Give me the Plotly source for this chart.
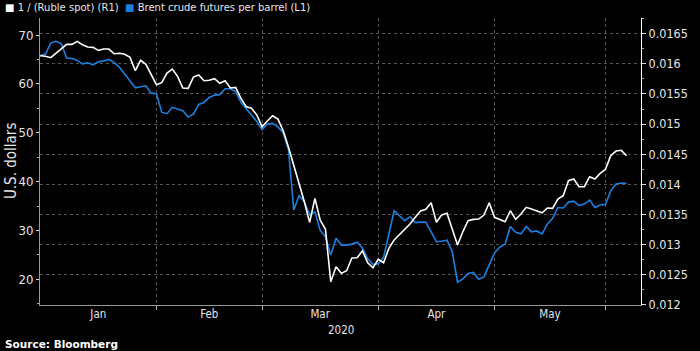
import numpy as np
import pandas as pd
import plotly.graph_objects as go

# Weekday trading dates (Jan 1 - Jun 4, 2020)
dates = [
    "2020-01-01", "2020-01-02", "2020-01-03", "2020-01-06", "2020-01-07", "2020-01-08", "2020-01-09", "2020-01-10",
    "2020-01-13", "2020-01-14", "2020-01-15", "2020-01-16", "2020-01-17", "2020-01-20", "2020-01-21", "2020-01-22",
    "2020-01-23", "2020-01-24", "2020-01-27", "2020-01-28", "2020-01-29", "2020-01-30", "2020-01-31",
    "2020-02-03", "2020-02-04", "2020-02-05", "2020-02-06", "2020-02-07", "2020-02-10", "2020-02-11", "2020-02-12",
    "2020-02-13", "2020-02-14", "2020-02-17", "2020-02-18", "2020-02-19", "2020-02-20", "2020-02-21", "2020-02-24",
    "2020-02-25", "2020-02-26", "2020-02-27", "2020-02-28",
    "2020-03-02", "2020-03-03", "2020-03-04", "2020-03-05", "2020-03-06", "2020-03-09", "2020-03-10", "2020-03-11",
    "2020-03-12", "2020-03-13", "2020-03-16", "2020-03-17", "2020-03-18", "2020-03-19", "2020-03-20", "2020-03-23",
    "2020-03-24", "2020-03-25", "2020-03-26", "2020-03-27", "2020-03-30", "2020-03-31",
    "2020-04-01", "2020-04-02", "2020-04-03", "2020-04-06", "2020-04-07", "2020-04-08", "2020-04-09", "2020-04-10",
    "2020-04-13", "2020-04-14", "2020-04-15", "2020-04-16", "2020-04-17", "2020-04-20", "2020-04-21", "2020-04-22",
    "2020-04-23", "2020-04-24", "2020-04-27", "2020-04-28", "2020-04-29", "2020-04-30",
    "2020-05-01", "2020-05-04", "2020-05-05", "2020-05-06", "2020-05-07", "2020-05-08", "2020-05-11", "2020-05-12",
    "2020-05-13", "2020-05-14", "2020-05-15", "2020-05-18", "2020-05-19", "2020-05-20", "2020-05-21", "2020-05-22",
    "2020-05-25", "2020-05-26", "2020-05-27", "2020-05-28", "2020-05-29",
    "2020-06-01", "2020-06-02", "2020-06-03", "2020-06-04",
]

# Brent crude futures per barrel, USD (left axis)
brent = [
    65.8, 66.1, 68.4, 68.7, 68.2, 65.3, 65.2, 64.8, 64.1, 64.3,
    63.9, 64.5, 64.7, 65.0, 64.4, 63.4, 62.0, 60.7, 59.2, 59.4,
    59.6, 58.1, 58.0, 54.2, 53.9, 55.2, 54.9, 54.5, 53.2, 53.8,
    55.8, 56.2, 57.2, 57.7, 57.8, 59.0, 59.0, 58.4, 56.2, 55.0,
    53.6, 52.3, 50.6, 51.8, 51.9, 51.2, 50.0, 46.5, 34.2, 37.1,
    35.9, 33.2, 33.8, 30.0, 28.7, 25.0, 28.4, 27.0, 27.0, 27.2,
    27.6, 26.4, 24.2, 23.0, 23.2, 24.5, 29.4, 34.0, 33.0, 32.0,
    32.8, 31.6, 31.7, 31.7, 29.7, 27.7, 27.8, 28.0, 25.7, 19.4,
    20.1, 21.2, 21.4, 20.0, 20.5, 23.1, 25.4, 26.6, 27.2, 30.8,
    29.6, 29.3, 30.8, 29.7, 29.9, 29.3, 31.3, 32.5, 34.7, 34.6,
    35.8, 36.0, 35.1, 35.4, 36.2, 34.7, 35.2, 35.3, 38.1, 39.5,
    39.7, 39.6,
]

# 1 / (Ruble spot) (right axis)
ruble_inv = [
    0.016135, 0.016125, 0.016102, 0.016180, 0.016251, 0.016324, 0.016324, 0.016374, 0.016317, 0.016279,
    0.016274, 0.016224, 0.016246, 0.016246, 0.016168, 0.016175, 0.016158, 0.016108, 0.015886, 0.016059,
    0.015992, 0.015820, 0.015654, 0.015687, 0.015848, 0.015914, 0.015793, 0.015599, 0.015594, 0.015781,
    0.015815, 0.015720, 0.015727, 0.015753, 0.015677, 0.015720, 0.015599, 0.015610, 0.015428, 0.015288,
    0.015262, 0.015151, 0.014956, 0.015051, 0.015139, 0.015084, 0.014890, 0.014615, 0.014321, 0.014017,
    0.013712, 0.013370, 0.013768, 0.013408, 0.013254, 0.012384, 0.012633, 0.012523, 0.012566, 0.012777,
    0.012782, 0.012898, 0.012699, 0.012616, 0.012756, 0.012699, 0.012938, 0.013076, 0.013159, 0.013242,
    0.013341, 0.013453, 0.013557, 0.013585, 0.013695, 0.013370, 0.013491, 0.013519, 0.013270, 0.012993,
    0.013214, 0.013396, 0.013419, 0.013424, 0.013491, 0.013695, 0.013453, 0.013420, 0.013380, 0.013562,
    0.013420, 0.013507, 0.013619, 0.013590, 0.013562, 0.013529, 0.013607, 0.013602, 0.013756, 0.013811,
    0.014060, 0.014088, 0.013961, 0.013961, 0.014127, 0.014088, 0.014183, 0.014249, 0.014475, 0.014553,
    0.014565, 0.014475,
]

month_labels = ["Jan", "Feb", "Mar", "Apr", "May"]
month_starts = ["2020-01-01", "2020-02-01", "2020-03-01", "2020-04-01", "2020-05-01", "2020-06-01"]

FONT = "DejaVu Sans Condensed, DejaVu Sans, sans-serif"
WHITE = "#ffffff"
BLUE = "#1c80e0"
GRID = "#555555"
TXT = "#e6e6e6"

X_RANGE = ["2020-01-01 23:00", "2020-06-09 17:30"]
BREAKS = [dict(bounds=["sat", "mon"])]

# points plotted at end of each trading day (Bloomberg convention)
x = pd.to_datetime(dates) + pd.Timedelta(hours=23, minutes=59)

# month-label positions: centre of each month's visible weekday span
range_start = pd.Timestamp(X_RANGE[0]).ceil("D")
label_pos = []
for a, b in zip(month_starts[:-1], month_starts[1:]):
    s = max(pd.Timestamp(a), range_start)
    s = pd.Timestamp(np.busday_offset(s.date(), 0, roll="forward"))
    n = int(np.busday_count(s.date(), pd.Timestamp(b).date()))
    mid = pd.Timestamp(np.busday_offset(s.date(), n // 2, roll="forward"))
    if n % 2:
        mid += pd.Timedelta(hours=12)
    label_pos.append(mid)

fig = go.Figure()
fig.add_trace(go.Scatter(x=x, y=brent, mode="lines", yaxis="y",
                         line=dict(color=BLUE, width=1.6), name="Brent crude futures per barrel (L1)"))
fig.add_trace(go.Scatter(x=x, y=ruble_inv, mode="lines", yaxis="y2",
                         line=dict(color=WHITE, width=1.6), name="1 / (Ruble spot) (R1)"))
# carrier for the month-label axis
fig.add_trace(go.Scatter(x=[x[0]], y=[brent[0]], xaxis="x2", yaxis="y", mode="markers",
                         marker=dict(opacity=0), hoverinfo="skip", showlegend=False))

fig.update_layout(
    width=700, height=351,
    paper_bgcolor="black", plot_bgcolor="black",
    margin=dict(l=40, r=48, t=18, b=46),
    showlegend=False,
    font=dict(family=FONT, color=TXT),
    xaxis=dict(
        type="date", range=X_RANGE, rangebreaks=BREAKS,
        dtick="M1", tick0="2020-01-01",
        showticklabels=False,
        ticks="outside", ticklen=4, tickcolor="#bbbbbb",
        showgrid=True, gridcolor=GRID, griddash="dot", gridwidth=1,
        showline=True, linecolor="#999999", linewidth=1,
        zeroline=False,
    ),
    xaxis2=dict(
        type="date", range=X_RANGE, rangebreaks=BREAKS,
        overlaying="x", anchor="y", side="bottom",
        tickmode="array", tickvals=label_pos, ticktext=month_labels,
        ticks="", showgrid=False, showline=False, zeroline=False,
        tickfont=dict(family=FONT, size=11.5, color=TXT),
    ),
    yaxis=dict(
        range=[14.74, 73.48], dtick=10, tick0=0,
        ticks="outside", ticklen=3, tickcolor="#dddddd",
        minor=dict(dtick=5, ticks="outside", ticklen=2, tickcolor="#aaaaaa", showgrid=False),
        showgrid=False, zeroline=False,
        showline=True, linecolor="#999999", linewidth=1,
        tickfont=dict(family=FONT, size=13, color=TXT),
    ),
    yaxis2=dict(
        overlaying="y", side="right",
        range=[0.011998, 0.016761], dtick=0.0005, tick0=0,
        ticks="outside", ticklen=4, tickcolor="#dddddd",
        minor=dict(dtick=0.00025, ticks="outside", ticklen=2, tickcolor="#aaaaaa", showgrid=False),
        showgrid=True, gridcolor=GRID, griddash="dot", gridwidth=1,
        zeroline=False,
        showline=True, linecolor="#ffffff", linewidth=1,
        tickfont=dict(family=FONT, size=12.5, color=TXT),
    ),
    annotations=[
        dict(xref="paper", yref="paper", x=-0.049, y=0.5, text="U.S. dollars", textangle=-90,
             showarrow=False, xanchor="center", yanchor="middle",
             font=dict(family=FONT, size=15, color=TXT)),
        dict(xref="paper", yref="paper", x=0.5, y=-0.087, text="2020",
             showarrow=False, xanchor="center", yanchor="middle",
             font=dict(family=FONT, size=11.5, color=TXT)),
        dict(xref="paper", yref="paper", x=-0.062, y=1.035,
             text=("<span style='color:#ffffff'>■</span> 1 / (Ruble spot) (R1)"
                   "  <span style='color:" + BLUE + "'>■</span> Brent crude futures per barrel (L1)"),
             showarrow=False, xanchor="left", yanchor="middle",
             font=dict(family="DejaVu Sans, sans-serif", size=10, color=TXT)),
        dict(xref="paper", yref="paper", x=-0.062, y=-0.136, text="<b>Source: Bloomberg</b>",
             showarrow=False, xanchor="left", yanchor="middle",
             font=dict(family="DejaVu Sans, sans-serif", size=10.5, color="#ffffff")),
    ],
)

fig.write_html("out.html")
